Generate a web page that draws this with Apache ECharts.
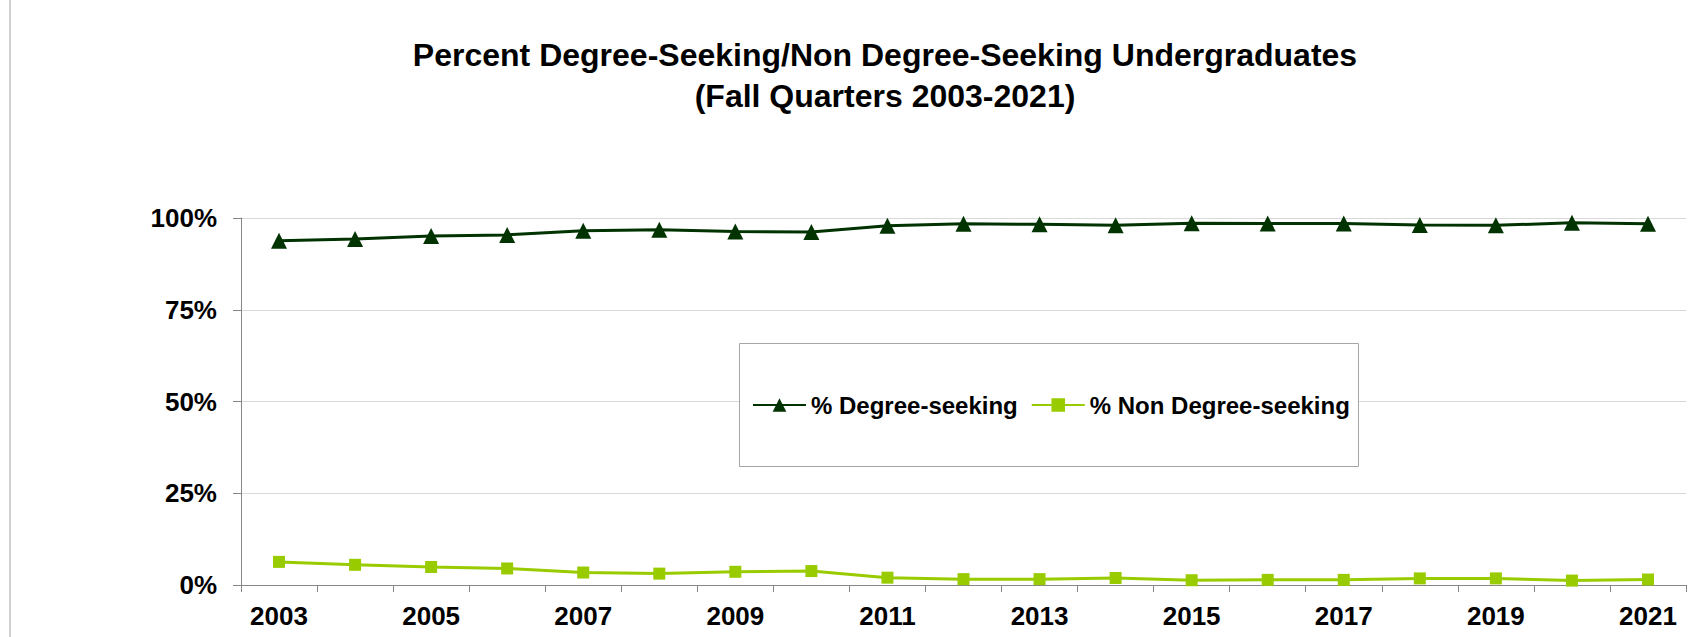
<!DOCTYPE html>
<html>
<head>
<meta charset="utf-8">
<script src="https://cdn.jsdelivr.net/npm/echarts@6/dist/echarts.min.js"></script>
<style>
html,body{margin:0;padding:0;background:#fff;}
#chart{width:1699px;height:637px;}
</style>
</head>
<body>
<div id="chart"></div>
<script>
var years = ['2003','2004','2005','2006','2007','2008','2009','2010','2011','2012','2013','2014','2015','2016','2017','2018','2019','2020','2021'];
var degreeSeeking = [93.8, 94.3, 95.1, 95.4, 96.5, 96.8, 96.3, 96.2, 97.9, 98.4, 98.3, 98.0, 98.6, 98.5, 98.5, 98.1, 98.0, 98.7, 98.4];
var nonDegreeSeeking = [6.3, 5.5, 4.9, 4.5, 3.4, 3.1, 3.6, 3.8, 2.0, 1.6, 1.6, 1.9, 1.3, 1.4, 1.4, 1.8, 1.8, 1.2, 1.5];
var yTicks = [0, 25, 50, 75, 100];
var seriesNames = ['% Degree-seeking', '% Non Degree-seeking'];
var titleText = 'Percent Degree-Seeking/Non Degree-Seeking Undergraduates\n(Fall Quarters 2003-2021)';

var FONT = '"Liberation Sans", Arial, Helvetica, sans-serif';
var chart = echarts.init(document.getElementById('chart'), null, {renderer: 'svg'});
chart.setOption({
  animation: false,
  backgroundColor: '#ffffff',
  title: {
    text: titleText,
    left: 885,
    top: 34,
    padding: 0,
    textAlign: 'center',
    textStyle: {fontFamily: FONT, fontSize: 32, fontWeight: 'bold', color: '#000', lineHeight: 41}
  },
  graphic: [
    {type: 'line', shape: {x1: 10, y1: 0, x2: 10, y2: 637}, style: {stroke: '#d0d0d0', lineWidth: 2}, silent: true},
    {type: 'rect', shape: {x: 739.5, y: 343.5, width: 619, height: 123}, style: {fill: '#fff', stroke: '#a6a6a6', lineWidth: 1}, z: 5, silent: true}
  ],
  legend: {
    left: 752,
    top: 393,
    padding: 0,
    itemWidth: 53,
    itemHeight: 17,
    itemGap: 13,
    z: 10,
    textStyle: {fontFamily: FONT, fontSize: 24, fontWeight: 'bold', color: '#000', padding: [0,0,0,0]},
    data: seriesNames
  },
  grid: {left: 241, right: 13, top: 218, bottom: 52, containLabel: false},
  xAxis: {
    type: 'category',
    data: years,
    boundaryGap: true,
    axisLine: {show: true, lineStyle: {color: '#868686', width: 1}},
    axisTick: {show: true, interval: 0, length: 7, lineStyle: {color: '#868686'}},
    axisLabel: {interval: 1, margin: 18, fontFamily: FONT, fontSize: 26, fontWeight: 'bold', color: '#000'},
    splitLine: {show: false}
  },
  yAxis: {
    type: 'value',
    min: yTicks[0],
    max: yTicks[yTicks.length - 1],
    interval: yTicks[1] - yTicks[0],
    axisLine: {show: true, lineStyle: {color: '#868686', width: 1}},
    axisTick: {show: true, length: 8, lineStyle: {color: '#868686'}},
    axisLabel: {formatter: '{value}%', margin: 24, fontFamily: FONT, fontSize: 26, fontWeight: 'bold', color: '#000'},
    splitLine: {show: true, lineStyle: {color: '#d9d9d9', width: 1}}
  },
  series: [
    {
      name: seriesNames[0],
      type: 'line',
      data: degreeSeeking,
      symbol: 'triangle',
      symbolSize: 16,
      showAllSymbol: true,
      lineStyle: {color: '#003300', width: 3},
      itemStyle: {color: '#003300'}
    },
    {
      name: seriesNames[1],
      type: 'line',
      data: nonDegreeSeeking,
      symbol: 'rect',
      symbolSize: 12,
      showAllSymbol: true,
      lineStyle: {color: '#99cc00', width: 3},
      itemStyle: {color: '#99cc00'}
    }
  ]
});
</script>
</body>
</html>
